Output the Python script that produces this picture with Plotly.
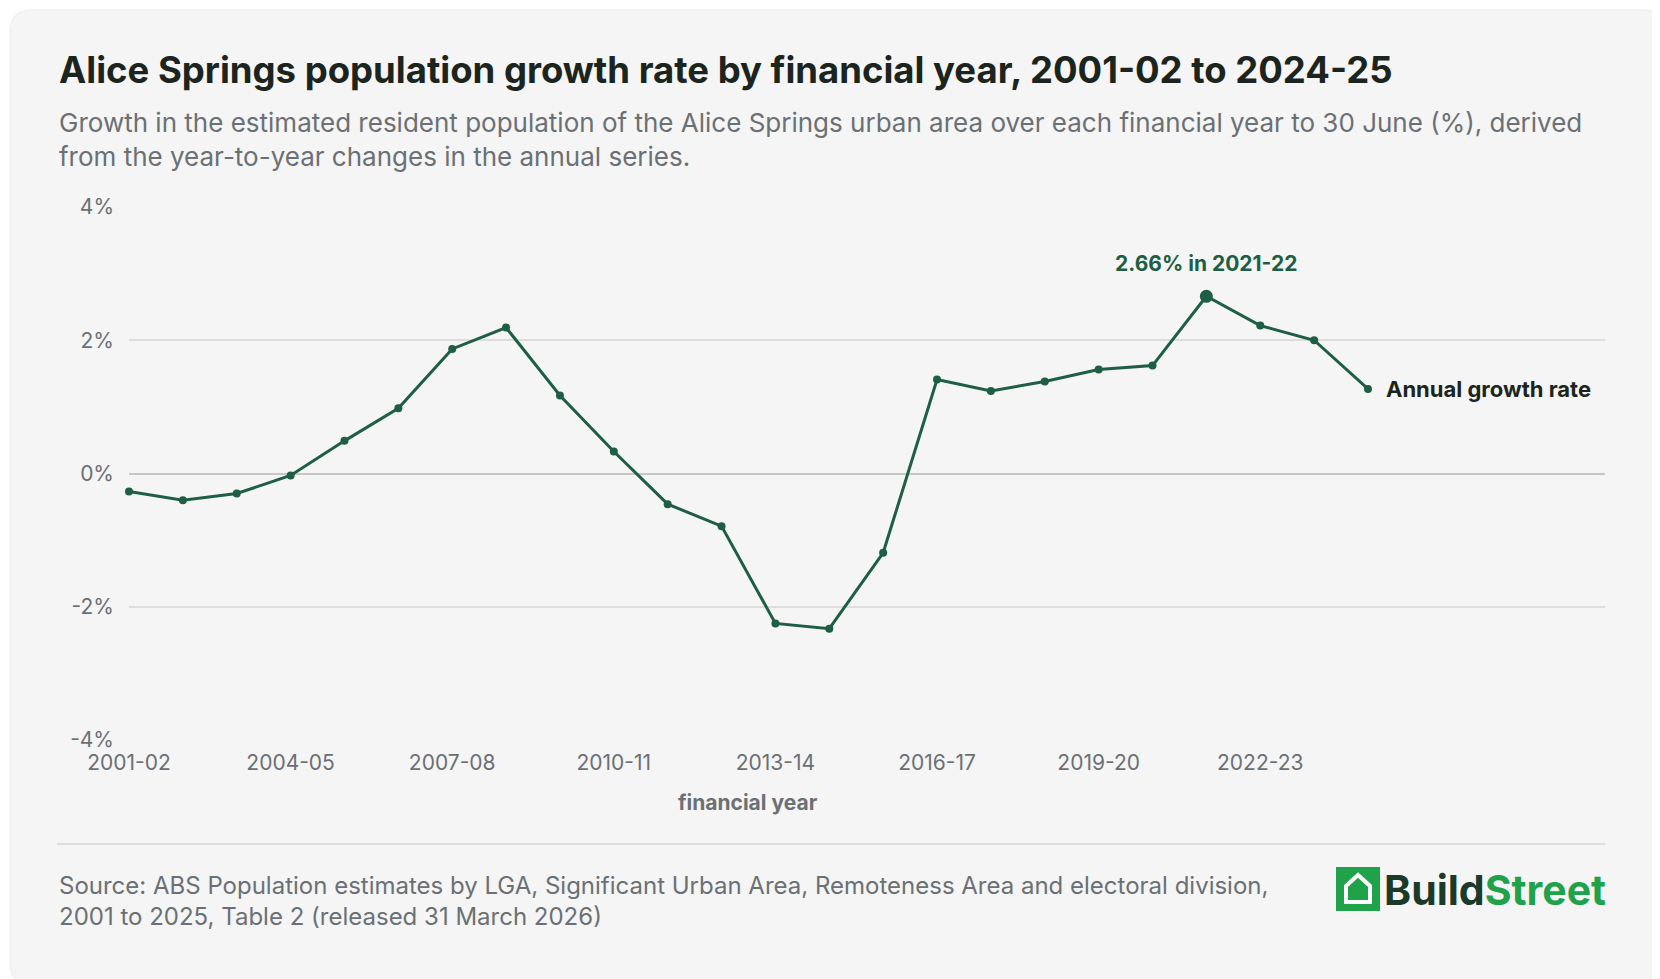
import plotly.graph_objects as go

years = ["2001-02", "2002-03", "2003-04", "2004-05", "2005-06", "2006-07", "2007-08",
         "2008-09", "2009-10", "2010-11", "2011-12", "2012-13", "2013-14", "2014-15",
         "2015-16", "2016-17", "2017-18", "2018-19", "2019-20", "2020-21", "2021-22",
         "2022-23", "2023-24", "2024-25"]
growth = [-0.27, -0.40, -0.30, -0.03, 0.49, 0.98, 1.87, 2.19, 1.17, 0.33, -0.46, -0.79,
          -2.25, -2.33, -1.19, 1.41, 1.24, 1.38, 1.56, 1.62, 2.66, 2.22, 2.00, 1.27]
tick_years = ["2001-02", "2004-05", "2007-08", "2010-11", "2013-14", "2016-17", "2019-20", "2022-23"]
y_ticks = [-4, -2, 0, 2, 4]

W, H = 1660, 979
L, R, T, B = 121, 63, 199, 247
GREEN = "#1e5e44"
FONT = "Inter"

peak_i = growth.index(max(growth))
idx = list(range(len(years)))

# pixel -> paper coords (paper is the plot area in plotly); everything sits 7px up/left
def px(x, y, off=7):
    x, y = x - off, y - off
    return (x - L) / (W - L - R), (H - B - y) / (H - T - B)

fig = go.Figure()
fig.add_scatter(x=idx, y=growth, mode="lines+markers",
                line=dict(color=GREEN, width=3), marker=dict(color=GREEN, size=8),
                hoverinfo="skip", cliponaxis=False)
fig.add_scatter(x=[peak_i], y=[growth[peak_i]], mode="markers",
                marker=dict(color=GREEN, size=13), hoverinfo="skip")

fig.add_annotation(x=peak_i, y=growth[peak_i], text=f"<b>{growth[peak_i]:.2f}% in {years[peak_i]}</b>",
                   showarrow=False, yshift=33, font=dict(size=21, color=GREEN, family=FONT))
fig.add_annotation(x=len(years) - 1, y=growth[-1], text="<b>Annual growth rate</b>",
                   showarrow=False, xanchor="left", xshift=16,
                   font=dict(size=22, color="#1c2420", family=FONT))

# card background (rounded)
cx0, cy0, cx1, cy1, rr = 2, 2, W - 2, H - 2, 22
pts = [(cx0 + rr, cy0), (cx1 - rr, cy0), ("Q", cx1, cy0, cx1, cy0 + rr), (cx1, cy1 - rr),
       ("Q", cx1, cy1, cx1 - rr, cy1), (cx0 + rr, cy1), ("Q", cx0, cy1, cx0, cy1 - rr),
       (cx0, cy0 + rr), ("Q", cx0, cy0, cx0 + rr, cy0)]
segs = []
for i, p in enumerate(pts):
    if p[0] == "Q":
        a = px(p[1], p[2], 0); b = px(p[3], p[4], 0)
        segs.append(f"Q {a[0]},{a[1]} {b[0]},{b[1]}")
    else:
        a = px(*p, 0)
        segs.append(("M " if i == 0 else "L ") + f"{a[0]},{a[1]}")
fig.add_shape(type="path", xref="paper", yref="paper", path=" ".join(segs) + " Z",
              fillcolor="#f4f5f4", line=dict(color="#ececec", width=1), layer="below")

# separator
x0, y0 = px(56, 843)
x1, _ = px(1604, 843)
fig.add_shape(type="line", xref="paper", yref="paper", x0=x0, x1=x1, y0=y0, y1=y0,
              line=dict(color="#dcdddc", width=2))

# logo square with house
lx0, ly0 = px(1337, 868)
lx1, ly1 = px(1377, 908)
fig.add_shape(type="rect", xref="paper", yref="paper", x0=lx0, x1=lx1, y0=ly1, y1=ly0,
              fillcolor="#1fa24a", line=dict(color="#1fa24a", width=4))
hx = [1345, 1357, 1369, 1369, 1345]
hy = [885, 874, 885, 901, 901]
path = "M " + " L ".join(f"{px(a, b)[0]},{px(a, b)[1]}" for a, b in zip(hx, hy)) + " Z"
fig.add_shape(type="path", xref="paper", yref="paper", path=path,
              fillcolor="#1fa24a", line=dict(color="white", width=4))
fig.add_annotation(xref="paper", yref="paper", x=px(1381, 0)[0], y=px(0, 889)[1],
                   text="<b><span style='color:#1c3a2a'>Build</span><span style='color:#1fa24a'>Street</span></b>",
                   showarrow=False, xanchor="left", yanchor="middle",
                   font=dict(size=41, family=FONT))

fig.add_annotation(xref="paper", yref="paper", x=px(56, 0)[0], y=px(0, 69)[1],
                   text="<b>Alice Springs population growth rate by financial year, 2001-02 to 2024-25</b>",
                   showarrow=False, xanchor="left", yanchor="middle",
                   font=dict(size=36.5, color="#1c2420", family=FONT))
fig.add_annotation(xref="paper", yref="paper", x=px(56, 0)[0], y=px(0, 104)[1],
                   text="Growth in the estimated resident population of the Alice Springs urban area over each financial year to 30 June (%), derived<br>from the year-to-year changes in the annual series.",
                   showarrow=False, xanchor="left", yanchor="top", align="left",
                   font=dict(size=26, color="#6b7075", family=FONT))
fig.add_annotation(xref="paper", yref="paper", x=px(56, 0)[0], y=px(0, 868)[1],
                   text="Source: ABS Population estimates by LGA, Significant Urban Area, Remoteness Area and electoral division,<br>2001 to 2025, Table 2 (released 31 March 2026)",
                   showarrow=False, xanchor="left", yanchor="top", align="left",
                   font=dict(size=24, color="#6b7075", family=FONT))
fig.add_annotation(xref="paper", yref="paper", x=px(747, 0)[0], y=px(0, 801)[1],
                   text="<b>financial year</b>", showarrow=False, xanchor="center", yanchor="middle",
                   font=dict(size=21, color="#6b7075", family=FONT))

fig.update_layout(
    width=W, height=H, showlegend=False,
    margin=dict(l=L, r=R, t=T, b=B),
    paper_bgcolor="white", plot_bgcolor="#f4f5f4",
    font=dict(family=FONT, color="#6b7075"),
    xaxis=dict(range=[0, 27.4], tickvals=[years.index(t) for t in tick_years], ticktext=tick_years,
               showgrid=False, zeroline=False, showline=False, ticks="",
               tickfont=dict(size=21, color="#6b7075"), ticklabelstandoff=8),
    yaxis=dict(range=[-4, 4], tickvals=y_ticks, ticktext=[f"{v}%" for v in y_ticks],
               gridcolor="#dcdddc", gridwidth=1.5, zeroline=True, zerolinecolor="#c5c7c5",
               zerolinewidth=2, ticks="", tickfont=dict(size=21, color="#6b7075"), ticklabelstandoff=14),
)
fig.write_html("out.html")
